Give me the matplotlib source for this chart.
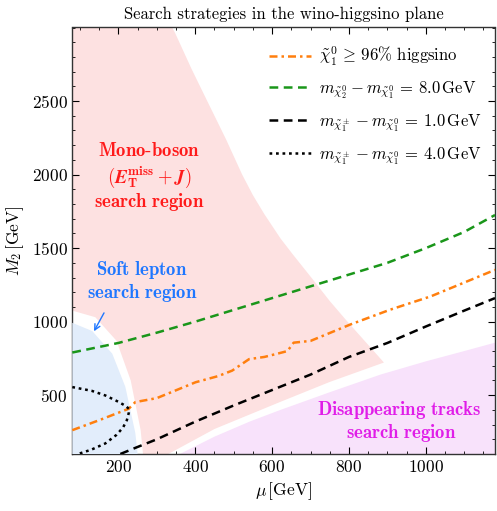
import matplotlib
matplotlib.use("Agg")
import matplotlib.pyplot as plt
import numpy as np

plt.rcParams['font.family'] = ['cmr10', 'DejaVu Serif']
plt.rcParams['mathtext.fontset'] = 'cm'
plt.rcParams['axes.formatter.use_mathtext'] = True
plt.rcParams['axes.unicode_minus'] = False

# ---- data ----
green_mu = [80, 200, 300, 400, 500, 600, 700, 800, 900, 1000, 1100, 1180]
green_m2 = [790, 855, 925, 1000, 1080, 1160, 1240, 1320, 1400, 1500, 1610, 1725]

orange_mu = [80, 150, 227, 244, 300, 401, 460, 496, 540, 580, 609, 640, 656, 700, 804, 908, 1013, 1180]
orange_m2 = [262, 330, 408, 453, 480, 588, 630, 667, 745, 760, 779, 800, 857, 869, 981, 1082, 1172, 1352]

black1_mu = [205, 250, 300, 400, 500, 600, 700, 800, 900, 1000, 1100, 1180]
black1_m2 = [100, 148, 200, 320, 430, 535, 640, 760, 855, 967, 1075, 1160]

black4_mu = [80, 130, 166, 200, 220, 228, 227, 222, 212, 195, 166, 130, 95]
black4_m2 = [555, 530, 498, 455, 425, 405, 380, 330, 280, 230, 172, 130, 100]

mono_mu = [80, 80, 340, 348, 390, 433, 480, 522, 550, 580, 622, 653, 708, 750, 795, 891, 750, 622, 450, 330]
mono_m2 = [100, 3000, 3000, 2960, 2720, 2490, 2240, 2000, 1860, 1730, 1565, 1460, 1280, 1140, 1003, 722, 590, 455, 270, 100]

soft_gap_mu = [80, 140, 195, 232, 258, 264, 80]
soft_gap_m2 = [1075, 1030, 870, 600, 260, 100, 100]

soft_mu = [80, 132, 184, 218, 244, 250, 80]
soft_m2 = [992, 936, 782, 557, 243, 100, 100]

disapp_mu = [360, 450, 543, 622, 750, 882, 1000, 1100, 1180, 1180]
disapp_m2 = [100, 218, 322, 400, 520, 640, 730, 800, 857, 100]

x_ticks = [200, 400, 600, 800, 1000]
y_ticks = [500, 1000, 1500, 2000, 2500]

# ---- figure ----
fig = plt.figure(figsize=(4.97, 5.11), dpi=100)
ax = fig.add_axes([72.3/497, (511-454)/511, (495-72.3)/497, (454-27.5)/511])

ax.fill(mono_mu, mono_m2, color='#fde1e1', lw=0, zorder=1)
ax.fill(soft_gap_mu, soft_gap_m2, color='white', lw=0, zorder=2)
ax.fill(soft_mu, soft_m2, color='#e2edfb', lw=0, zorder=3)
ax.fill(disapp_mu, disapp_m2, color='#f8e2fb', lw=0, zorder=1)

ax.plot(orange_mu, orange_m2, color='#ff7f0e', lw=1.8, ls=(0, (3.2, 1.6, 1.0, 1.6)), zorder=5,
        label=r'$\tilde{\chi}_1^0 \,\geq\, 96\%$ higgsino')
ax.plot(green_mu, green_m2, color='#1a961a', lw=1.8, ls=(0, (3.5, 2.2)), zorder=5,
        label=r'$m_{\tilde{\chi}_2^0} - m_{\tilde{\chi}_1^0} \,=\, 8.0\,\mathrm{GeV}$')
ax.plot(black1_mu, black1_m2, color='black', lw=1.8, ls=(0, (3.5, 2.2)), zorder=5,
        label=r'$m_{\tilde{\chi}_1^\pm} - m_{\tilde{\chi}_1^0} \,=\, 1.0\,\mathrm{GeV}$')
ax.plot(black4_mu, black4_m2, color='black', lw=1.8, ls=(0, (1.1, 1.5)), zorder=5,
        label=r'$m_{\tilde{\chi}_1^\pm} - m_{\tilde{\chi}_1^0} \,=\, 4.0\,\mathrm{GeV}$')

ax.set_xlim(80, 1180)
ax.set_ylim(100, 3000)
ax.set_xticks(x_ticks)
ax.set_yticks(y_ticks)
ax.set_xticks(np.arange(100, 1180, 50), minor=True)
ax.set_yticks(np.arange(100, 3001, 100), minor=True)
ax.tick_params(which='both', direction='in', top=True, right=True, labelsize=12.5)
ax.tick_params(which='major', length=5)
ax.tick_params(which='minor', length=2.5)
for s in ax.spines.values():
    s.set_linewidth(1.0)
    s.set_color('#333333')

ax.set_xlabel(r'$\mu\,[\mathrm{GeV}]$', fontsize=12.5)
ax.set_ylabel(r'$M_2\,[\mathrm{GeV}]$', fontsize=12.5)
ax.set_title('Search strategies in the wino-higgsino plane', fontsize=12, pad=6)

leg = ax.legend(loc='upper right', bbox_to_anchor=(1.005, 0.995), frameon=False, fontsize=12,
                handlelength=2.5, handletextpad=0.5, labelspacing=0.68)
leg.set_zorder(10)

fs = 13.5
red = '#ff1a1a'
ax.text(281, 2163, r'$\mathbf{Mono\text{-}boson}$', color=red, fontsize=fs, ha='center', va='center', zorder=6)
t_et = ax.text(281, 1980, r'$(\boldsymbol{E}_{\mathbf{T}}^{\mathbf{miss}} + \boldsymbol{J})$', color=red,
               fontsize=fs, ha='center', va='center', zorder=6)
try:
    fig.canvas.draw()
except Exception:
    t_et.set_text(r'$(\mathbf{E}_{\mathbf{T}}^{\mathbf{miss}} + \mathbf{J})$')
ax.text(281, 1815, r'$\mathbf{search\ region}$', color=red, fontsize=fs, ha='center', va='center', zorder=6)

blue = '#1f77ff'
ax.text(262, 1352, r'$\mathbf{Soft\ lepton}$', color=blue, fontsize=fs, ha='center', va='center', zorder=6)
ax.text(262, 1194, r'$\mathbf{search\ region}$', color=blue, fontsize=fs, ha='center', va='center', zorder=6)
ax.annotate('', xy=(133, 918), xytext=(166, 1076),
            arrowprops=dict(arrowstyle='->', color=blue, lw=1.0), zorder=6)

mag = '#e01ee8'
ax.text(932, 401, r'$\mathbf{Disappearing\ tracks}$', color=mag, fontsize=fs, ha='center', va='center', zorder=6)
ax.text(935, 240, r'$\mathbf{search\ region}$', color=mag, fontsize=fs, ha='center', va='center', zorder=6)

fig.savefig('out.png', dpi=100)
